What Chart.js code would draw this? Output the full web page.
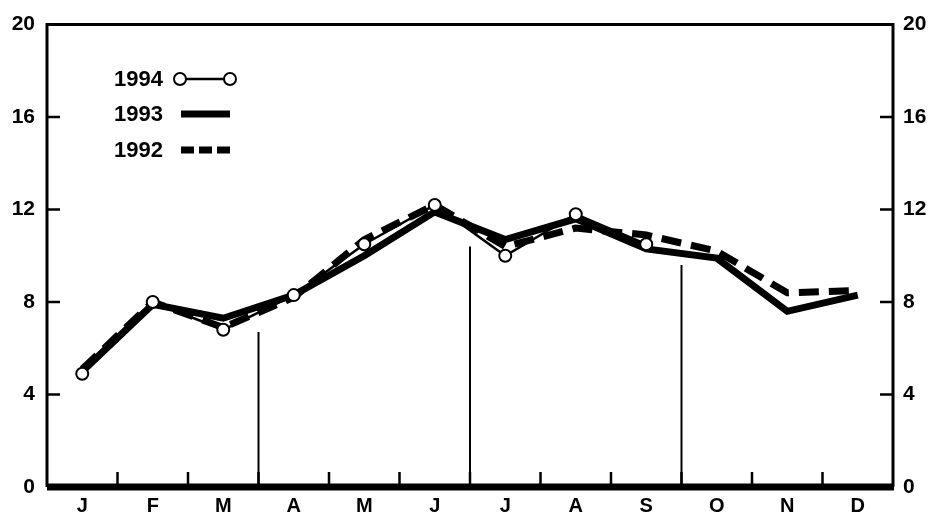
<!DOCTYPE html>
<html>
<head>
<meta charset="utf-8">
<title>Monthly values 1992-1994</title>
<script src="https://cdn.jsdelivr.net/npm/chart.js@4.4.1/dist/chart.umd.min.js"></script>
<style>
  body { margin: 0; background: #fff; }
  #wrap { width: 941px; height: 514px; }
</style>
</head>
<body>
<div id="wrap"><canvas id="chart" width="941" height="514"></canvas></div>
<script>
// data
const months = ['J', 'F', 'M', 'A', 'M', 'J', 'J', 'A', 'S', 'O', 'N', 'D'];
const yTicks = [0, 4, 8, 12, 16, 20];
const values1994 = [4.9, 8.0, 6.8, 8.3, 10.5, 12.2, 10.0, 11.8, 10.5, null, null, null];
const values1993 = [5.0, 7.9, 7.3, 8.3, 10.0, 11.9, 10.7, 11.6, 10.3, 9.9, 7.6, 8.3];
const values1992 = [5.1, 8.0, 6.9, 8.2, 10.7, 12.2, 10.4, 11.2, 10.9, 10.2, 8.4, 8.5];
// quarter dividers: drawn after these month indexes, up to these heights
const quarterAfter = [2, 5, 8];
const quarterTops = [6.7, 10.4, 9.6];

const FONT = '"Liberation Sans", Arial, Helvetica, sans-serif';

// frame, inward ticks and quarter lines
const framePlugin = {
  id: 'frame',
  beforeDatasetsDraw(chart) {
    const { ctx, chartArea: a, scales } = chart;
    const x = scales.x, y = scales.y;
    ctx.save();
    ctx.strokeStyle = '#000';
    ctx.lineCap = 'butt';

    ctx.lineWidth = 3;
    ctx.beginPath();
    ctx.moveTo(a.left, a.bottom);
    ctx.lineTo(a.left, a.top);
    ctx.lineTo(a.right, a.top);
    ctx.lineTo(a.right, a.bottom);
    ctx.stroke();

    ctx.lineWidth = 2.5;
    ctx.beginPath();
    yTicks.forEach(v => {
      const py = y.getPixelForValue(v);
      ctx.moveTo(a.left, py); ctx.lineTo(a.left + 13, py);
      ctx.moveTo(a.right, py); ctx.lineTo(a.right - 13, py);
    });
    for (let i = 0; i < months.length - 1; i++) {
      const px = (x.getPixelForValue(i) + x.getPixelForValue(i + 1)) / 2;
      ctx.moveTo(px, a.bottom); ctx.lineTo(px, a.bottom - 15);
    }
    ctx.stroke();

    ctx.lineWidth = 2;
    ctx.beginPath();
    quarterAfter.forEach((m, i) => {
      const px = (x.getPixelForValue(m) + x.getPixelForValue(m + 1)) / 2;
      ctx.moveTo(px, a.bottom); ctx.lineTo(px, y.getPixelForValue(quarterTops[i]));
    });
    ctx.stroke();

    ctx.lineWidth = 7;
    ctx.beginPath();
    ctx.moveTo(a.left, a.bottom);
    ctx.lineTo(a.right + 1, a.bottom);
    ctx.stroke();
    ctx.restore();
  }
};

// legend in the upper left corner, text left of the sample line
const legendDash = [13, 5];
const legendPlugin = {
  id: 'sampleLegend',
  afterDatasetsDraw(chart) {
    const { ctx } = chart;
    const rowsY = [79, 114, 150];
    ctx.save();
    ctx.font = 'bold 22px ' + FONT;
    ctx.fillStyle = '#000';
    ctx.textBaseline = 'middle';
    chart.data.datasets.forEach((ds, i) => {
      const ry = rowsY[i];
      ctx.fillStyle = '#000';
      ctx.fillText(ds.label, 114, ry + 1);
      ctx.strokeStyle = '#000';
      ctx.lineWidth = ds.borderWidth;
      ctx.setLineDash(ds.borderDash ? legendDash : []);
      ctx.beginPath();
      ctx.moveTo(181, ry);
      ctx.lineTo(230, ry);
      ctx.stroke();
      ctx.setLineDash([]);
      if (ds.pointRadius > 0) {
        [180, 230].forEach(cx => {
          ctx.beginPath();
          ctx.arc(cx, ry, ds.pointRadius, 0, Math.PI * 2);
          ctx.fillStyle = '#fff';
          ctx.fill();
          ctx.lineWidth = ds.pointBorderWidth;
          ctx.stroke();
        });
      }
    });
    ctx.restore();
  }
};

const tickFont = { family: FONT, size: 21, weight: 'bold' };

new Chart(document.getElementById('chart'), {
  type: 'line',
  data: {
    labels: months,
    datasets: [
      {
        label: '1994',
        data: values1994,
        borderColor: '#000',
        borderWidth: 2.5,
        pointRadius: 6,
        pointBorderWidth: 2,
        pointBackgroundColor: '#fff',
        pointBorderColor: '#000',
        order: 0
      },
      {
        label: '1993',
        data: values1993,
        borderColor: '#000',
        borderWidth: 7,
        pointRadius: 0,
        order: 1
      },
      {
        label: '1992',
        data: values1992,
        borderColor: '#000',
        borderWidth: 7,
        borderDash: [20, 10],
        pointRadius: 0,
        order: 2
      }
    ]
  },
  options: {
    responsive: false,
    animation: false,
    layout: { padding: { top: 21, left: 0, right: 0, bottom: 0 } },
    plugins: { legend: { display: false }, tooltip: { enabled: false } },
    scales: {
      x: {
        offset: true,
        grid: { display: false, drawTicks: false },
        border: { display: false },
        ticks: { color: '#000', font: { family: FONT, size: 20, weight: 'bold' }, padding: 7, maxRotation: 0, autoSkip: false },
        afterFit: s => { s.height = 27; }
      },
      y: {
        position: 'left',
        min: 0, max: 20,
        grid: { display: false, drawTicks: false },
        border: { display: false },
        ticks: { color: '#000', font: tickFont, stepSize: 4, padding: 12 },
        afterFit: s => { s.width = 47; }
      },
      y2: {
        position: 'right',
        min: 0, max: 20,
        grid: { display: false, drawTicks: false },
        border: { display: false },
        ticks: { color: '#000', font: tickFont, stepSize: 4, padding: 10 },
        afterFit: s => { s.width = 48; }
      }
    }
  },
  plugins: [framePlugin, legendPlugin]
});
</script>
</body>
</html>
